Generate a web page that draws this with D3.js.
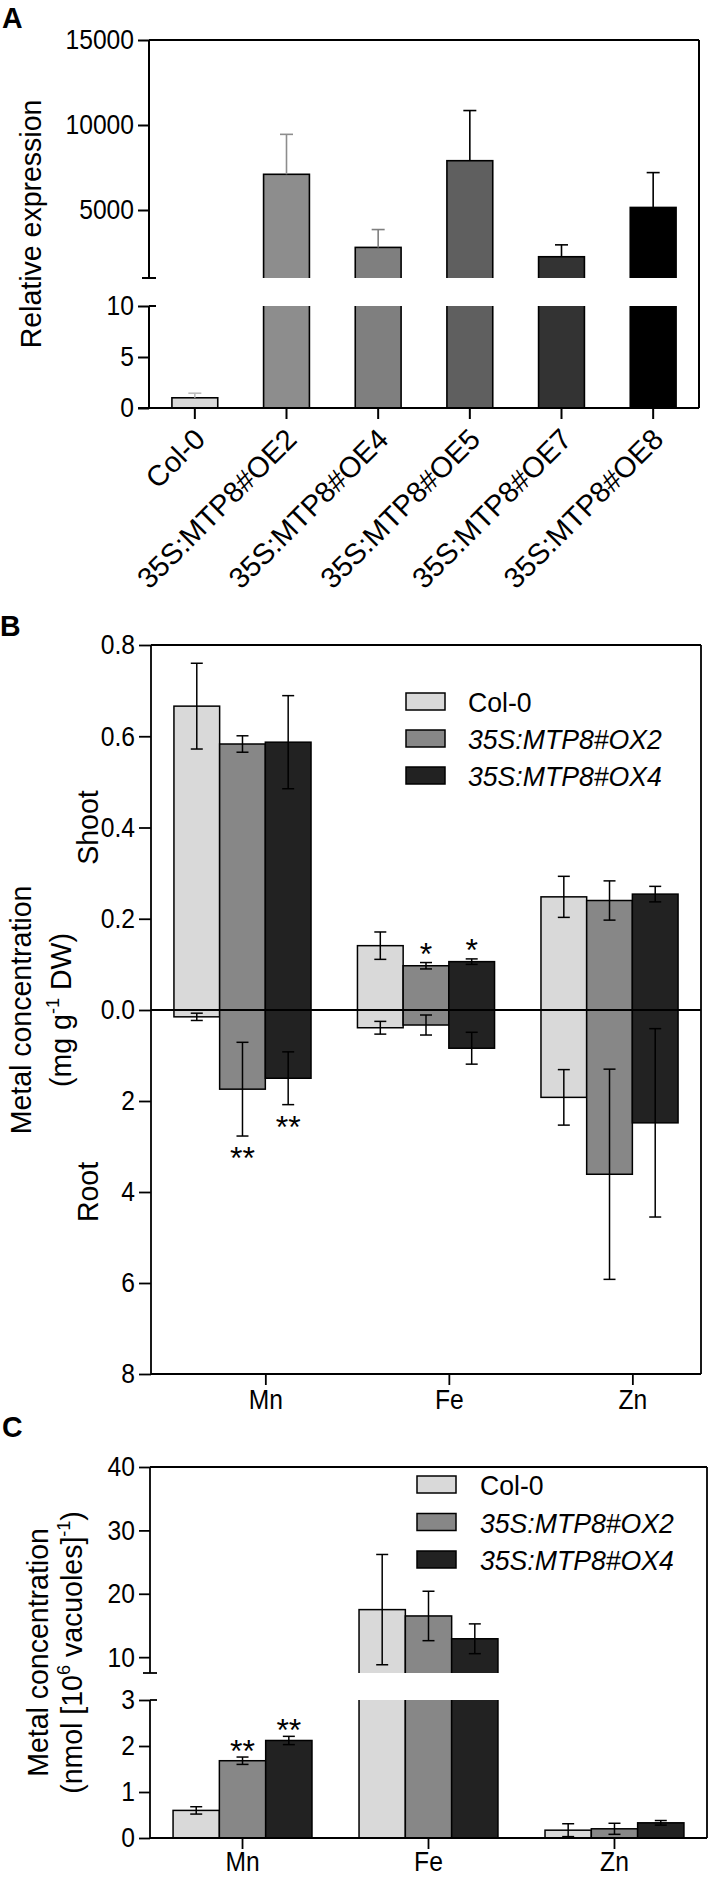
<!DOCTYPE html>
<html><head><meta charset="utf-8">
<script src="https://cdn.jsdelivr.net/npm/d3@7"></script>
<style>
body{margin:0;background:#fff;}
text{font-family:"Liberation Sans",Arial,Helvetica,sans-serif;fill:#000;}
</style></head>
<body><svg id="fig" width="709" height="1877"></svg>
<script>
// ---------------- DATA ----------------
// Panel A : relative expression
const exprCategories = ["Col-0","35S:MTP8#OE2","35S:MTP8#OE4","35S:MTP8#OE5","35S:MTP8#OE7","35S:MTP8#OE8"];
const exprMeans  = [1.0, 7100, 2800, 7900, 2250, 5150];
const exprErrors = [0.45, 2350, 1050, 2950, 700, 2050];
const exprLowerTicks = [0, 5, 10];
const exprUpperTicks = [5000, 10000, 15000];
const exprLowerDomain = [0, 10];
const exprUpperDomain = [1000, 15000];
const exprColors    = ["#d9d9d9","#8d8d8d","#7f7f7f","#5f5f5f","#333333","#000000"];
const exprErrColors = ["#bdbdbd","#8d8d8d","#7f7f7f","#000000","#000000","#000000"];

// Panels B and C
const metals = ["Mn","Fe","Zn"];
const genotypes = ["Col-0","35S:MTP8#OX2","35S:MTP8#OX4"];
const genoColors = ["#d9d9d9","#878787","#222222"];
const genoItalic = [false, true, true];

// Panel B : shoot and root concentration (mg g-1 DW)
const shootCol0 = [0.666, 0.141, 0.248];
const shootOX2  = [0.583, 0.097, 0.240];
const shootOX4  = [0.587, 0.106, 0.254];
const shootSdCol0 = [0.094, 0.030, 0.045];
const shootSdOX2  = [0.018, 0.007, 0.043];
const shootSdOX4  = [0.102, 0.006, 0.017];
const shootSig = [["","",""],["","*",""],["","*",""]];
const rootCol0 = [0.15, 0.39, 1.92];
const rootOX2  = [1.74, 0.33, 3.61];
const rootOX4  = [1.50, 0.84, 2.48];
const rootSdCol0 = [0.08, 0.14, 0.61];
const rootSdOX2  = [1.03, 0.22, 2.31];
const rootSdOX4  = [0.58, 0.35, 2.07];
const rootSig = [["","",""],["**","",""],["**","",""]];
const shootTicks = [0, 0.2, 0.4, 0.6, 0.8];
const rootTicks = [2, 4, 6, 8];

// Panel C : vacuolar concentration
const vacCol0 = [0.60, 17.5, 0.17];
const vacOX2  = [1.68, 16.5, 0.20];
const vacOX4  = [2.12, 12.9, 0.33];
const vacSdCol0 = [0.08, 8.7, 0.14];
const vacSdOX2  = [0.08, 3.9, 0.12];
const vacSdOX4  = [0.09, 2.35, 0.05];
const vacSig = [["","",""],["**","",""],["**","",""]];
const vacLowerTicks = [0, 1, 2, 3];
const vacUpperTicks = [10, 20, 30, 40];
const vacLowerDomain = [0, 3];
const vacUpperDomain = [7.5, 40];

// ---------------- DRAW ----------------
const svg = d3.select("#fig");
svg.append("rect").attr("width",709).attr("height",1877).attr("fill","#fff");
const FONT_TICK = 28, FONT_TITLE = 30, FONT_LEG = 28, FONT_XA = 29;

function styleAxis(g, fs, sw){
  g.attr("font-size", null).attr("font-family", null);
  g.selectAll("path.domain").remove();
  g.selectAll("line").attr("stroke","#000").attr("stroke-width", sw);
  g.selectAll("text").attr("font-size", fs).attr("fill","#000").attr("data-cf",0.88);
}
function hline(g,x1,x2,y,sw){ g.append("line").attr("x1",x1).attr("x2",x2).attr("y1",y).attr("y2",y).attr("stroke","#000").attr("stroke-width",sw); }
function vline(g,x,y1,y2,sw,col){ g.append("line").attr("x1",x).attr("x2",x).attr("y1",y1).attr("y2",y2).attr("stroke",col||"#000").attr("stroke-width",sw); }
function errBar(g,x,y1,y2,cap,col,sw,capTop,capBot){
  vline(g,x,y1,y2,sw,col);
  if(capTop) g.append("line").attr("x1",x-cap/2).attr("x2",x+cap/2).attr("y1",y2).attr("y2",y2).attr("stroke",col).attr("stroke-width",sw);
  if(capBot) g.append("line").attr("x1",x-cap/2).attr("x2",x+cap/2).attr("y1",y1).attr("y2",y1).attr("stroke",col).attr("stroke-width",sw);
}
function clip(id,x,y,w,h){
  svg.append("clipPath").attr("id",id).append("rect").attr("x",x).attr("y",y).attr("width",w).attr("height",h);
  return "url(#"+id+")";
}
function panelLetter(t,x,y){ svg.append("text").attr("x",x).attr("y",y).attr("font-size",30).attr("font-weight","bold").attr("data-cf",0.95).text(t); }
function star(g,x,y,t){ g.append("text").attr("x",x).attr("y",y).attr("text-anchor","middle").attr("font-size",32).text(t); }
function vtitle(g,x,y,parts){
  const t = g.append("text").attr("transform",`translate(${x},${y}) rotate(-90)`).attr("text-anchor","middle")
    .attr("font-size",FONT_TITLE).attr("data-cf",0.95);
  parts.forEach(p=>{
    const s = t.append("tspan").text(p.t);
    if(p.sup){ s.attr("font-size",19).attr("dy",-12); }
    else if(p.after){ s.attr("dy",12); }
  });
  return t;
}

// ===== Panel A =====
{
  const L=149, R=699, T=40, Bt=408, brkTop=278, brkBot=306;
  const g = svg.append("g");
  const x = d3.scaleBand().domain(exprCategories).range([L,R]).paddingInner(0.5).paddingOuter(0.25);
  const yUp = d3.scaleLinear().domain(exprUpperDomain).range([brkTop,T]);
  const yLo = d3.scaleLinear().domain(exprLowerDomain).range([Bt,brkBot]);
  const cUp = clip("clipAup", L, T, R-L, brkTop-T);
  const cLo = clip("clipAlo", L, brkBot, R-L, Bt-brkBot+1);
  exprCategories.forEach((c,i)=>{
    const v = exprMeans[i], e = exprErrors[i], xb = x(c), w = x.bandwidth(), xc = xb+w/2;
    const yl = v > exprLowerDomain[1] ? brkBot-4 : yLo(v);
    g.append("rect").attr("x",xb).attr("y",yl).attr("width",w).attr("height",Bt-yl)
      .attr("fill",exprColors[i]).attr("stroke","#000").attr("stroke-width",1.6).attr("clip-path",cLo);
    if(v > exprUpperDomain[0]){
      g.append("rect").attr("x",xb).attr("y",yUp(v)).attr("width",w).attr("height",brkTop+4-yUp(v))
        .attr("fill",exprColors[i]).attr("stroke","#000").attr("stroke-width",1.6).attr("clip-path",cUp);
      errBar(g,xc,yUp(v),yUp(v+e),13,exprErrColors[i],1.6,true,false);
    } else {
      errBar(g,xc,yLo(v),yLo(v+e),13,exprErrColors[i],1.6,true,false);
    }
  });
  const ga1 = g.append("g").attr("transform",`translate(${L},0)`)
    .call(d3.axisLeft(yUp).tickValues(exprUpperTicks).tickSize(11).tickPadding(4).tickFormat(d3.format("d")));
  styleAxis(ga1, FONT_TICK, 2);
  const ga2 = g.append("g").attr("transform",`translate(${L},0)`)
    .call(d3.axisLeft(yLo).tickValues(exprLowerTicks).tickSize(11).tickPadding(4));
  styleAxis(ga2, FONT_TICK, 2);
  vline(g,L,T,brkTop,2); vline(g,L,brkBot,Bt,2);
  hline(g,L-7,L+7,brkTop,2); hline(g,L,L+7,brkBot,2);
  hline(g,L,R,T,2); vline(g,R,T,Bt,2);
  const gx = g.append("g").attr("transform",`translate(0,${Bt})`)
    .call(d3.axisBottom(x).tickSize(11).tickSizeOuter(0));
  styleAxis(gx, FONT_XA, 2);
  hline(g,L-11,R,Bt,2);
  gx.selectAll("text").attr("text-anchor","end").attr("dy",null).attr("y",null).attr("data-cf",1)
    .attr("transform","translate(12,33) rotate(-45)");
  vtitle(g,41,(T+Bt)/2,[{t:"Relative expression"}]);
  panelLetter("A",2,28);
}

// ===== Panel B =====
{
  const L=151, R=701, T=645, Z=1010, Bt=1374;
  const g = svg.append("g");
  const x = d3.scaleBand().domain(metals).range([L,R]).paddingInner(0.253).paddingOuter(0.125);
  const xi = d3.scaleBand().domain(genotypes).range([0,x.bandwidth()]);
  const yS = d3.scaleLinear().domain([0,0.8]).range([Z,T]);
  const yR = d3.scaleLinear().domain([0,8]).range([Z,Bt]);
  const shoot = [shootCol0, shootOX2, shootOX4], shootSd = [shootSdCol0, shootSdOX2, shootSdOX4];
  const root = [rootCol0, rootOX2, rootOX4], rootSd = [rootSdCol0, rootSdOX2, rootSdOX4];
  metals.forEach((m,mi)=>{
    genotypes.forEach((gt,gi)=>{
      const xb = x(m)+xi(gt), w = xi.bandwidth();
      const vs = shoot[gi][mi], vr = root[gi][mi];
      g.append("rect").attr("x",xb).attr("y",yS(vs)).attr("width",w).attr("height",Z-yS(vs))
        .attr("fill",genoColors[gi]).attr("stroke","#000").attr("stroke-width",1.5);
      g.append("rect").attr("x",xb).attr("y",Z).attr("width",w).attr("height",yR(vr)-Z)
        .attr("fill",genoColors[gi]).attr("stroke","#000").attr("stroke-width",1.5);
    });
  });
  metals.forEach((m,mi)=>{
    genotypes.forEach((gt,gi)=>{
      const xc = x(m)+xi(gt)+xi.bandwidth()/2;
      const vs = shoot[gi][mi], es = shootSd[gi][mi], vr = root[gi][mi], er = rootSd[gi][mi];
      errBar(g,xc,yS(vs-es),yS(vs+es),12,"#000",1.5,true,true);
      errBar(g,xc,yR(Math.max(vr-er,0)),yR(vr+er),12,"#000",1.5,true,true);
      if(shootSig[gi][mi]) star(g,xc,yS(vs+es)+2,shootSig[gi][mi]);
      if(rootSig[gi][mi]) star(g,xc,yR(vr+er)+33,rootSig[gi][mi]);
    });
  });
  hline(g,L,R,Z,1.8);
  const ga1 = g.append("g").attr("transform",`translate(${L},0)`)
    .call(d3.axisLeft(yS).tickValues(shootTicks).tickSize(12).tickPadding(4).tickFormat(d3.format(".1f")));
  styleAxis(ga1, FONT_TICK, 1.8);
  const ga2 = g.append("g").attr("transform",`translate(${L},0)`)
    .call(d3.axisLeft(yR).tickValues(rootTicks).tickSize(12).tickPadding(4).tickFormat(d3.format("d")));
  styleAxis(ga2, FONT_TICK, 1.8);
  vline(g,L,T,Bt,1.8); hline(g,L,R,T,1.8); vline(g,R,T,Bt,1.8); hline(g,L,R,Bt,1.8);
  const xt = d3.scaleOrdinal().domain(metals).range(metals.map(m=>x(m)+x.bandwidth()*2/3));
  const gx = g.append("g").attr("transform",`translate(0,${Bt})`).call(d3.axisBottom(xt).tickSize(11).tickPadding(4));
  styleAxis(gx, FONT_TICK, 1.8);
  const lg = g.append("g");
  genotypes.forEach((gt,gi)=>{
    const yy = 693 + gi*37;
    lg.append("rect").attr("x",406).attr("y",yy).attr("width",39).attr("height",17)
      .attr("fill",genoColors[gi]).attr("stroke","#000").attr("stroke-width",1.5);
    lg.append("text").attr("x",468).attr("y",yy+19).attr("font-size",FONT_LEG).attr("data-cf",0.95)
      .attr("font-style",genoItalic[gi]?"italic":"normal").text(gt);
  });
  vtitle(g,31,Z,[{t:"Metal concentration"}]);
  vtitle(g,71,Z,[{t:"(mg g"},{t:"-1",sup:true},{t:" DW)",after:true}]);
  vtitle(g,98,yS(0.4),[{t:"Shoot"}]);
  vtitle(g,98,yR(4),[{t:"Root"}]);
  panelLetter("B",0,636);
}

// ===== Panel C =====
{
  const L=150, R=707, T=1467, brkTop=1673, brkBot=1700, Bt=1838;
  const g = svg.append("g");
  const x = d3.scaleBand().domain(metals).range([L,R]).paddingInner(0.253).paddingOuter(0.124);
  const xi = d3.scaleBand().domain(genotypes).range([0,x.bandwidth()]);
  const yUp = d3.scaleLinear().domain(vacUpperDomain).range([brkTop,T]);
  const yLo = d3.scaleLinear().domain(vacLowerDomain).range([Bt,brkBot]);
  const cUp = clip("clipCup", L, T, R-L, brkTop-T);
  const cLo = clip("clipClo", L, brkBot, R-L, Bt-brkBot+1);
  const vals = [vacCol0, vacOX2, vacOX4], sds = [vacSdCol0, vacSdOX2, vacSdOX4];
  metals.forEach((m,mi)=>{
    genotypes.forEach((gt,gi)=>{
      const xb = x(m)+xi(gt), w = xi.bandwidth(), v = vals[gi][mi];
      const yl = v > vacLowerDomain[1] ? brkBot-4 : yLo(v);
      g.append("rect").attr("x",xb).attr("y",yl).attr("width",w).attr("height",Bt-yl)
        .attr("fill",genoColors[gi]).attr("stroke","#000").attr("stroke-width",1.5).attr("clip-path",cLo);
      if(v > vacUpperDomain[0]){
        g.append("rect").attr("x",xb).attr("y",yUp(v)).attr("width",w).attr("height",brkTop+4-yUp(v))
          .attr("fill",genoColors[gi]).attr("stroke","#000").attr("stroke-width",1.5).attr("clip-path",cUp);
      }
    });
  });
  metals.forEach((m,mi)=>{
    genotypes.forEach((gt,gi)=>{
      const xc = x(m)+xi(gt)+xi.bandwidth()/2, v = vals[gi][mi], e = sds[gi][mi];
      const y = v > vacUpperDomain[0] ? yUp : yLo;
      errBar(g,xc,y(Math.max(v-e,0)),y(v+e),12,"#000",1.5,true,true);
      if(vacSig[gi][mi]) star(g,xc,y(v+e)+5,vacSig[gi][mi]);
    });
  });
  const ga1 = g.append("g").attr("transform",`translate(${L},0)`)
    .call(d3.axisLeft(yUp).tickValues(vacUpperTicks).tickSize(11).tickPadding(4).tickFormat(d3.format("d")));
  styleAxis(ga1, FONT_TICK, 1.8);
  const ga2 = g.append("g").attr("transform",`translate(${L},0)`)
    .call(d3.axisLeft(yLo).tickValues(vacLowerTicks).tickSize(11).tickPadding(4).tickFormat(d3.format("d")));
  styleAxis(ga2, FONT_TICK, 1.8);
  vline(g,L,T,brkTop,1.8); vline(g,L,brkBot,Bt,1.8);
  hline(g,L-7,L+7,brkTop,1.8); hline(g,L,L+7,brkBot,1.8);
  hline(g,L,R,T,1.8); vline(g,R,T,Bt,1.8); hline(g,L,R,Bt,1.8);
  const gx = g.append("g").attr("transform",`translate(0,${Bt})`).call(d3.axisBottom(x).tickSize(11).tickSizeOuter(0).tickPadding(2));
  styleAxis(gx, FONT_TICK, 1.8);
  const lg = g.append("g");
  genotypes.forEach((gt,gi)=>{
    const yy = 1476 + gi*37.5;
    lg.append("rect").attr("x",417).attr("y",yy).attr("width",39).attr("height",17)
      .attr("fill",genoColors[gi]).attr("stroke","#000").attr("stroke-width",1.5);
    lg.append("text").attr("x",480).attr("y",yy+19).attr("font-size",FONT_LEG).attr("data-cf",0.95)
      .attr("font-style",genoItalic[gi]?"italic":"normal").text(gt);
  });
  const cy = (T+Bt)/2;
  vtitle(g,48,cy,[{t:"Metal concentration"}]);
  vtitle(g,82,cy,[{t:"(nmol [10"},{t:"6",sup:true},{t:" vacuoles]",after:true},{t:"-1",sup:true},{t:")",after:true}]);
  panelLetter("C",2,1437);
}

// condense text slightly (narrow Helvetica look of the original figure)
svg.selectAll("text").each(function(){
  const cf = +this.getAttribute("data-cf");
  if(cf && cf < 1){
    const len = this.getComputedTextLength();
    this.setAttribute("textLength", (len*cf).toFixed(1));
    this.setAttribute("lengthAdjust","spacingAndGlyphs");
  }
});
</script></body></html>
